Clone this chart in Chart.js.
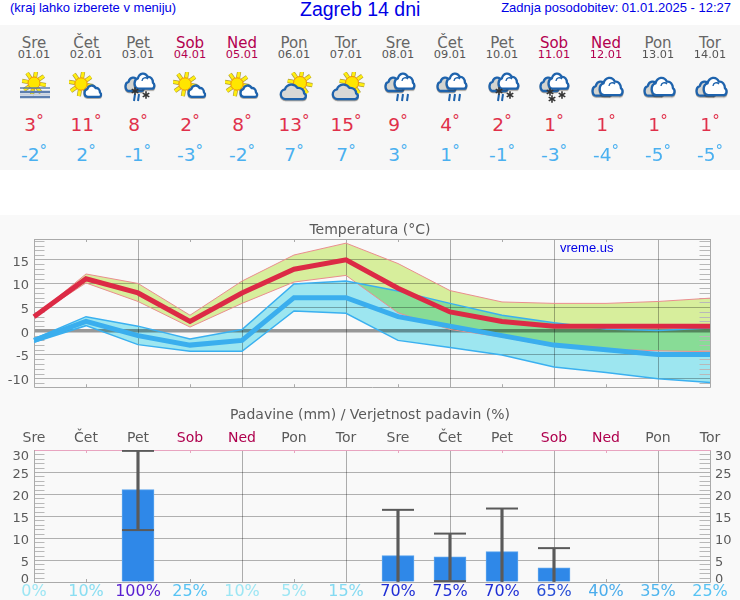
<!DOCTYPE html>
<html>
<head>
<meta charset="utf-8">
<title>Zagreb 14 dni</title>
<script src="https://cdn.jsdelivr.net/npm/chart.js@4"></script>
<style>
  html, body { margin: 0; padding: 0; background: #fff; }
  #page { position: relative; width: 740px; height: 600px; overflow: hidden; font-family: "DejaVu Sans", sans-serif; }
  .head { position: absolute; color: #0000e6; font-family: "Liberation Sans", sans-serif; white-space: nowrap; }
  #strip { position: absolute; left: 0; top: 25px; width: 740px; height: 145px; background: #f7f7f7; }
  #chartBack { position: absolute; left: 0; top: 215px; width: 740px; height: 385px; background: #f9f9f9; }
  .cell { position: absolute; width: 52px; text-align: center; white-space: nowrap; line-height: 1; }
  .cell sup { font-size: 15px; line-height: 0; vertical-align: 5px; }
  canvas { position: absolute; left: 0; }
  svg.icon { position: absolute; width: 36px; height: 32px; }
  svg.icon .shade { filter: drop-shadow(0.4px 1.2px 0.6px rgba(60,50,40,.45)); }
</style>
</head>
<body>
<div id="page">
  <div class="head" style="left:10px;top:0;font-size:13px">(kraj lahko izberete v meniju)</div>
  <div class="head" style="left:300px;top:-2px;font-size:19.5px">Zagreb 14 dni</div>
  <div class="head" style="right:9px;top:0;font-size:13px">Zadnja posodobitev: 01.01.2025 - 12:27</div>
  <div id="strip"></div>
  <div id="chartBack"></div>
  <canvas id="tempChart" width="740" height="185" style="top:215px"></canvas>
  <canvas id="rainChart" width="740" height="200" style="top:400px"></canvas>
  <div class="head" style="left:560px;top:240px;font-size:13px">vreme.us</div>
</div>

<script>
// Data
const days = ["Sre", "Čet", "Pet", "Sob", "Ned", "Pon", "Tor", "Sre", "Čet", "Pet", "Sob", "Ned", "Pon", "Tor"];
const dates = ["01.01", "02.01", "03.01", "04.01", "05.01", "06.01", "07.01", "08.01", "09.01", "10.01", "11.01", "12.01", "13.01", "14.01"];
const icons = ["fog", "sunCloud", "sleet", "sunCloud", "sunCloud", "cloudSun", "cloudSun", "rain", "rain", "sleet", "snow", "cloud", "cloud", "cloud"];

const tempMax = [3, 11, 8, 2, 8, 13, 15, 9, 4, 2, 1, 1, 1, 1];
const tempMin = [-2, 2, -1, -3, -2, 7, 7, 3, 1, -1, -3, -4, -5, -5];
const maxBandTop = [3, 12, 10, 3.3, 10.5, 16, 18.5, 14.2, 8.5, 6.1, 5.8, 5.8, 6.2, 6.9];
const maxBandLow = [3, 10.1, 6.2, 0.8, 5.8, 10.3, 11.7, 3.8, 0.3, -1.3, -3.3, -3.8, -4.2, -4.4];
const minBandTop = [-1.7, 3, 1, -1.7, 0.3, 9.9, 10.5, 8.4, 5.8, 3.3, 1.7, 0.4, 0.1, 0.6];
const minBandLow = [-2.4, 1.1, -2.9, -4.3, -4.3, 4.2, 3.7, -2, -3.5, -5.1, -7.6, -8.8, -10.1, -10.9];
const tempTicks = [-10, -5, 0, 5, 10, 15];

const rain = [null, null, 21, null, null, null, null, 6, 5.7, 6.9, 3.2, null, null, null];
const rainHigh = [null, null, 29.8, null, null, null, null, 16.4, 11, 16.7, 7.7, null, null, null];
const rainLow = [null, null, 11.8, null, null, null, null, 0, 0.2, 0, 0, null, null, null];
const rainChance = [0, 10, 100, 25, 10, 5, 15, 70, 75, 70, 65, 40, 35, 25];
const rainTicks = [0, 5, 10, 15, 20, 25, 30];

// Colours
const textGray = "#5c5c5c";
const weekend = "#b3004f";
const chanceColors = ["#a0ecfa", "#8ce4f8", "#5a1fd6", "#58c8fa", "#a0ecfa", "#a0ecfa", "#86e0f8", "#2030dc", "#2030dc", "#2030dc", "#2850dc", "#4cb0f2", "#50baf4", "#58c8fa"];
const dayColor = (d) => (d === "Sob" || d === "Ned" ? weekend : textGray);

// Weather icons
const cloudPath = "M5 14a4.6 4.6 0 0 1-.6-9.1A6.2 6.2 0 0 1 15.6 3.6 5 5 0 0 1 21.5 8.7 2.8 2.8 0 0 1 20 14z";
function cloud(x, y, sx, sy, fill) {
  return `<path class="shade" transform="translate(${x} ${y}) scale(${sx} ${sy})" d="${cloudPath}" fill="${fill}" stroke="#1e63ad" stroke-width="2.3" vector-effect="non-scaling-stroke" stroke-linejoin="round"/>`;
}
const hook = (x, y) => `<path d="M${x} ${y + 3}a3.4 3.4 0 0 1 6-2" fill="none" stroke="#1e63ad" stroke-width="1.3"/>`;
function sun(cx, cy, r) {
  let rays = "";
  for (let a = 10; a < 360; a += 45) {
    const c = Math.cos((a * Math.PI) / 180), s = Math.sin((a * Math.PI) / 180);
    const l = `x1="${cx + c * r}" y1="${cy + s * r}" x2="${cx + c * (r + 6)}" y2="${cy + s * (r + 6)}"`;
    rays += `<line ${l} stroke="#a89840" stroke-width="4.2"/><line ${l} stroke="#ffee10" stroke-width="2.9"/>`;
  }
  return rays + `<circle cx="${cx}" cy="${cy}" r="${r}" fill="#ffe600" stroke="#f09000" stroke-width="1"/>`;
}
function star(x, y) {
  let out = "";
  for (let a = 0; a < 180; a += 60) {
    const c = Math.sin((a * Math.PI) / 180) * 3.8, s = Math.cos((a * Math.PI) / 180) * 3.8;
    out += `<line x1="${x - c}" y1="${y - s}" x2="${x + c}" y2="${y + s}" stroke="#333" stroke-width="1.6"/>`;
  }
  return out;
}
function drops(list) {
  return list.map(([x, y]) => `<line x1="${x + 1}" y1="${y}" x2="${x}" y2="${y + 7}" stroke="#1e63ad" stroke-width="2"/>`).join("");
}
const twoClouds = () => cloud(4, 5, 0.8, 1, "#d4d4d0") + cloud(13, 1, 0.88, 1.12, "#fff") + hook(21, 6);
const iconShapes = {
  fog: sun(17, 11, 6) + '<path d="M3 16H33" stroke="#4f76ac" stroke-width="1.4"/><path d="M3 20H33M3 25H33" stroke="#5d7fb0" stroke-width="2.4"/><path d="M3 22.5H33" stroke="#c8d0dc" stroke-width="1"/>',
  sunCloud: sun(12, 12, 6.2) + cloud(15, 13, 0.74, 0.85, "#fff"),
  cloudSun: sun(23, 11, 6.5) + cloud(3, 12, 1.12, 1.08, "#d8d8d6"),
  rain: twoClouds() + drops([[16, 22], [21, 22], [26, 22]]),
  sleet: twoClouds() + drops([[13, 22], [17, 22]]) + star(14, 19) + star(25, 23),
  snow: cloud(3, 5, 0.8, 1, "#d4d4d0") + cloud(11, 1, 0.88, 1.12, "#fff") + hook(19, 6) + star(13, 20) + star(15, 27) + star(25, 23),
  cloud: cloud(3, 9, 0.84, 1.05, "#d4d4d0") + cloud(10, 5, 1.02, 1.3, "#fff") + hook(20, 11),
};

// Top strip with the daily forecast
const page = document.getElementById("page");
function addCell(i, top, size, color, text, degree) {
  const el = document.createElement("div");
  el.className = "cell";
  el.textContent = text;
  if (degree) el.insertAdjacentHTML("beforeend", "<sup>°</sup>");
  el.style.cssText = `left:${8 + 52 * i}px;top:${top}px;font-size:${size}px;color:${color}`;
  page.appendChild(el);
}
days.forEach((d, i) => {
  addCell(i, 36, 15, d === "Sob" || d === "Ned" ? weekend : "#666", d);
  addCell(i, 49, 11.3, d === "Sob" || d === "Ned" ? weekend : "#555", dates[i]);
  addCell(i, 116, 18.5, "#e0304a", String(tempMax[i]), true);
  addCell(i, 146, 18.5, "#4ab0f0", String(tempMin[i]), true);
  const svg = `<svg class="icon" viewBox="0 0 36 32" style="left:${17 + 52 * i}px;top:72px">${iconShapes[icons[i]]}</svg>`;
  page.insertAdjacentHTML("beforeend", svg);
});

// Background, then multiply so the two bands mix to green like the original
const bandBlend = {
  id: "bandBlend",
  beforeDraw(chart) {
    const { ctx, width, height } = chart;
    ctx.fillStyle = "#f9f9f9";
    ctx.fillRect(0, 0, width, height);
    ctx.globalCompositeOperation = "multiply";
  },
  beforeDatasetsDraw(chart) {
    chart.ctx.globalCompositeOperation = "source-over";
  },
};

// Plot frame with the short inner ticks of both axes
function frameTicks(topColor) {
  return {
    id: "frameTicks",
    beforeDatasetsDraw(chart) {
      const { ctx, chartArea: a, scales } = chart;
      const line = (x1, y1, x2, y2, color) => {
        ctx.strokeStyle = color;
        ctx.lineWidth = 1;
        ctx.beginPath();
        ctx.moveTo(x1, y1);
        ctx.lineTo(x2, y2);
        ctx.stroke();
      };
      ctx.save();
      for (let v = Math.ceil(scales.y.min); v <= scales.y.max; v++) {
        if (v % 5 === 0) continue;
        const y = Math.round(scales.y.getPixelForValue(v)) + 0.5;
        line(a.left, y, a.left + 10.5, y, "#b8b8b8");
        line(a.right - 10.5, y, a.right, y, "#b8b8b8");
      }
      days.forEach((d, i) => {
        if (i % 2 === 0) return;
        const x = Math.round(scales.x.getPixelForValue(i)) + 0.5;
        line(x, a.top, x, a.top + 3, topColor);
        line(x, a.bottom - 3, x, a.bottom, "#aaa");
      });
      const l = Math.round(a.left) + 0.5, r = Math.round(a.right) + 0.5;
      const t = Math.round(a.top) + 0.5, b = Math.round(a.bottom) + 0.5;
      line(l, t, l, b, "#aaa");
      line(r, t, r, b, "#aaa");
      line(l, b, r, b, "#aaa");
      line(l, t, r, t, topColor);
      ctx.restore();
    },
  };
}

// The end labels of the rain axes sit inside the plot's height
const rainLabelShift = {
  id: "rainLabelShift",
  beforeDraw(chart) {
    [chart.scales.y, chart.scales.y2].forEach((s) => {
      s.getLabelItems().forEach((item) => {
        if (item.label === "30") item.options.translation[1] += 4;
        if (item.label === "0") item.options.translation[1] -= 5;
      });
    });
  },
};

const yGrid = {
  drawTicks: false,
  color: (c) => (c.tick.value === 0 && c.scale.min < 0 ? "#9c9c9c" : "#b4b4b4"),
  lineWidth: (c) => (c.tick.value === 0 && c.scale.min < 0 ? 3.5 : 1),
};
const xGrid = {
  offset: false,
  drawTicks: false,
  color: (c) => (c.index % 2 === 0 ? "#b0b0b0" : "rgba(0,0,0,0)"),
};
const fixSize = (key, size) => (s) => { s[key] = size; };
const setTicks = (list) => (s) => { s.ticks = list.map((v) => ({ value: v })); };
const axisFont = { family: "DejaVu Sans", size: 13 };
const titleFont = { family: "DejaVu Sans", size: 14, weight: "normal" };

// Temperature chart
function band(data, edge, fill, order, width) {
  return {
    data: data,
    borderColor: edge,
    borderWidth: width,
    backgroundColor: fill || "transparent",
    fill: fill ? "+1" : false,
    pointRadius: 0,
    tension: 0,
    order: order,
  };
}
new Chart(document.getElementById("tempChart"), {
  type: "line",
  data: {
    labels: days,
    datasets: [
      band(maxBandTop, "#ea8e8e", "#ddf4a0", 5, 1),
      band(maxBandLow, "#ea8e8e", null, 5, 1),
      band(minBandTop, "#3ab0f0", "#a1ecf6", 4, 1.5),
      band(minBandLow, "#3ab0f0", null, 4, 1.5),
      band(tempMin, "#3aaeee", null, 2, 5),
      band(tempMax, "#dc2a45", null, 1, 5),
    ],
  },
  options: {
    responsive: false,
    animation: false,
    devicePixelRatio: 1,
    layout: { padding: 0 },
    plugins: {
      legend: { display: false },
      tooltip: { enabled: false },
      filler: { drawTime: "beforeDatasetsDraw" },
      title: {
        display: true,
        text: "Temperatura (°C)",
        color: textGray,
        font: titleFont,
        padding: { top: 6.5, bottom: 0.7 },
      },
    },
    scales: {
      x: {
        offset: false,
        afterFit: fixSize("height", 11),
        ticks: { display: false },
        border: { display: false },
        grid: xGrid,
      },
      y: {
        min: -11.875,
        max: 19.375,
        afterFit: fixSize("width", 34),
        afterBuildTicks: setTicks(tempTicks),
        ticks: { color: textGray, font: axisFont, padding: 5, labelOffset: 2.5 },
        border: { display: false },
        grid: yGrid,
      },
      y2: {
        position: "right",
        min: -11.875,
        max: 19.375,
        afterFit: fixSize("width", 30),
        ticks: { display: false },
        border: { display: false },
        grid: { display: false },
      },
    },
  },
  plugins: [bandBlend, frameTicks("#aaa")],
});

// Precipitation chart
const whiskers = (data) => ({
  type: "line",
  data: data,
  showLine: false,
  pointStyle: "line",
  pointRadius: 16,
  pointBorderWidth: 2,
  pointBorderColor: "#5a5a5a",
  order: 1,
});
new Chart(document.getElementById("rainChart"), {
  type: "bar",
  data: {
    labels: days,
    datasets: [
      { data: rain, backgroundColor: "#2f88e8", borderColor: "#5aa4ee", borderWidth: 1, barThickness: 32, grouped: false, order: 3 },
      { data: rainHigh.map((v, i) => (v === null ? null : [rainLow[i], v])), backgroundColor: "#5a5a5a", barThickness: 2.5, grouped: false, order: 2 },
      whiskers(rainHigh),
      whiskers(rainLow.map((v) => (v > 0 ? v : null))),
    ],
  },
  options: {
    responsive: false,
    animation: false,
    devicePixelRatio: 1,
    layout: { padding: 0 },
    plugins: {
      legend: { display: false },
      tooltip: { enabled: false },
      title: {
        display: true,
        text: "Padavine (mm) / Verjetnost padavin (%)",
        color: textGray,
        font: titleFont,
        padding: { top: 7, bottom: 0.2 },
      },
    },
    scales: {
      x: {
        offset: false,
        afterFit: fixSize("height", 18),
        ticks: {
          autoSkip: false,
          maxRotation: 0,
          padding: 0,
          font: { family: "DejaVu Sans", size: 16 },
          color: (c) => chanceColors[c.index],
          callback: (v, i) => rainChance[i] + "%",
        },
        border: { display: false },
        grid: xGrid,
      },
      xTop: {
        type: "category",
        position: "top",
        offset: false,
        afterFit: fixSize("height", 26),
        ticks: {
          autoSkip: false,
          maxRotation: 0,
          padding: 3,
          font: { family: "DejaVu Sans", size: 14 },
          color: (c) => dayColor(days[c.index]),
        },
        border: { display: false },
        grid: { display: false, drawTicks: false },
      },
      y: {
        min: 0,
        max: 30,
        afterFit: fixSize("width", 34),
        afterBuildTicks: setTicks(rainTicks),
        ticks: { color: textGray, font: axisFont, padding: 5, labelOffset: 2.5 },
        border: { display: false },
        grid: yGrid,
      },
      y2: {
        position: "right",
        min: 0,
        max: 30,
        afterFit: fixSize("width", 30),
        afterBuildTicks: setTicks(rainTicks),
        ticks: { color: textGray, font: axisFont, padding: 5, labelOffset: 2.5 },
        border: { display: false },
        grid: { display: false, drawTicks: false },
      },
    },
  },
  plugins: [bandBlend, frameTicks("#e8a4c0"), rainLabelShift],
});
</script>
</body>
</html>
